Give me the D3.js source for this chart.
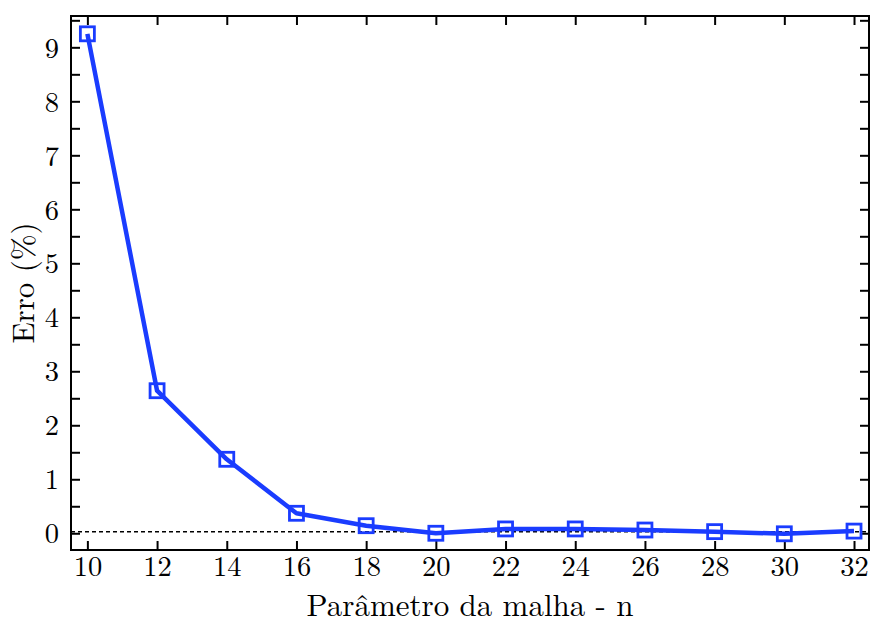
<!DOCTYPE html>
<html>
<head>
<meta charset="utf-8">
<script src="https://cdn.jsdelivr.net/npm/d3@7"></script>
<style>
  html, body { margin: 0; padding: 0; background: #fff; }
  svg { display: block; }
</style>
</head>
<body>
<svg id="chart" width="874" height="624"></svg>
<script>
// Mesh parameter n and relative error (%)
const meshN = [10, 12, 14, 16, 18, 20, 22, 24, 26, 28, 30, 32];
const erroPct = [9.25, 2.64, 1.37, 0.37, 0.14, 0.0, 0.08, 0.08, 0.06, 0.03, -0.01, 0.04];
const referenceLevel = 0.03;
const xTicks = [10, 12, 14, 16, 18, 20, 22, 24, 26, 28, 30, 32];
const yTicks = [0, 1, 2, 3, 4, 5, 6, 7, 8, 9];
const yMinorTicks = [0, 0.5, 1, 1.5, 2, 2.5, 3, 3.5, 4, 4.5, 5, 5.5, 6, 6.5, 7, 7.5, 8, 8.5, 9, 9.5];

const fontFamily = '"Latin Modern Roman", "CMU Serif", "Liberation Serif", serif';
const svg = d3.select("#chart").style("font-family", fontFamily);
const plotLeft = 71, plotRight = 869, plotTop = 16, plotBottom = 550;

const x = d3.scaleLinear().domain([9.53, 32.43]).range([plotLeft, plotRight]);
const y = d3.scaleLinear().domain([-0.31, 9.58]).range([plotBottom, plotTop]);

const blue = "#1a3cff";
const tickLen = 9;

// reference level (dashed)
svg.append("line")
  .attr("x1", plotLeft).attr("x2", plotRight)
  .attr("y1", y(referenceLevel)).attr("y2", y(referenceLevel))
  .attr("stroke", "#000").attr("stroke-width", 1.5)
  .attr("stroke-dasharray", "4,3");

// axes with inward ticks
const fontSize = 28.5;
const bottomAxis = svg.append("g").attr("transform", `translate(0,${plotBottom})`)
  .call(d3.axisBottom(x).tickValues(xTicks).tickSize(-tickLen).tickPadding(tickLen + 8));
const topAxis = svg.append("g").attr("transform", `translate(0,${plotTop})`)
  .call(d3.axisTop(x).tickValues(xTicks).tickSize(-tickLen).tickFormat(""));
const leftAxis = svg.append("g").attr("transform", `translate(${plotLeft},0)`)
  .call(d3.axisLeft(y).tickValues(yMinorTicks).tickSize(-tickLen).tickPadding(tickLen + 3)
    .tickFormat(d => yTicks.includes(d) ? d : ""));
const rightAxis = svg.append("g").attr("transform", `translate(${plotRight},0)`)
  .call(d3.axisRight(y).tickValues(yMinorTicks).tickSize(-tickLen).tickFormat(""));

[bottomAxis, topAxis, leftAxis, rightAxis].forEach(g => {
  g.attr("font-family", null).attr("font-size", null);
  g.select(".domain").remove();
  g.selectAll(".tick line").attr("stroke", "#000").attr("stroke-width", 2);
  g.selectAll(".tick text")
    .style("font-family", fontFamily)
    .style("font-size", fontSize + "px")
    .attr("fill", "#000");
});
bottomAxis.selectAll(".tick text").attr("y", 15).attr("dy", "0.4em");
leftAxis.selectAll(".tick text").attr("dy", "0.34em");

// frame
svg.append("rect")
  .attr("x", plotLeft).attr("y", plotTop)
  .attr("width", plotRight - plotLeft).attr("height", plotBottom - plotTop)
  .attr("fill", "none").attr("stroke", "#000").attr("stroke-width", 2);

// error curve
const line = d3.line().x((d, i) => x(meshN[i])).y(d => y(d));
svg.append("path")
  .datum(erroPct)
  .attr("d", line)
  .attr("fill", "none")
  .attr("stroke", blue)
  .attr("stroke-width", 4.5)
  .attr("stroke-linejoin", "round");

// square markers
const m = 14;
svg.append("g").selectAll("rect")
  .data(erroPct)
  .join("rect")
  .attr("x", (d, i) => x(meshN[i]) - m / 2)
  .attr("y", d => y(d) - m / 2)
  .attr("width", m).attr("height", m)
  .attr("fill", "none")
  .attr("stroke", blue)
  .attr("stroke-width", 2.8);

// axis titles
svg.append("text")
  .attr("x", (plotLeft + plotRight) / 2).attr("y", 616)
  .attr("text-anchor", "middle")
  .style("font-family", fontFamily)
  .style("font-size", "31px")
  .text("Parâmetro da malha - n");

svg.append("text")
  .attr("transform", `translate(34,${(plotTop + plotBottom) / 2}) rotate(-90)`)
  .attr("text-anchor", "middle")
  .style("font-family", fontFamily)
  .style("font-size", "31px")
  .text("Erro (%)");
</script>
</body>
</html>
